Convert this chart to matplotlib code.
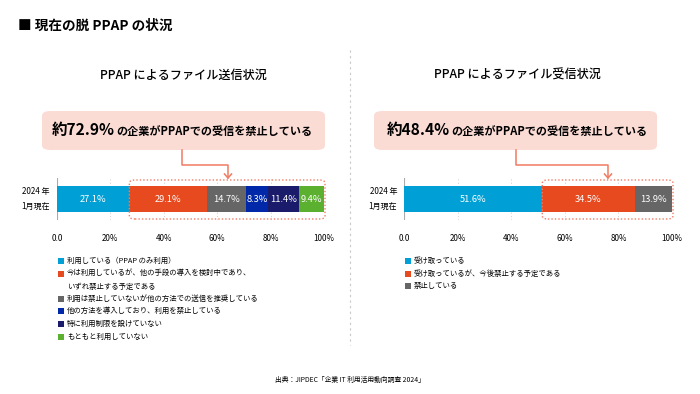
import matplotlib
matplotlib.use("Agg")
import matplotlib.pyplot as plt
from matplotlib.patches import FancyBboxPatch, Rectangle
from matplotlib.lines import Line2D

plt.rcParams['font.family'] = ['Noto Sans CJK JP', 'DejaVu Sans']

# ---- data ----
send_labels = ["利用している（PPAP のみ利用）",
               "今は利用しているが、他の手段の導入を検討中であり、\nいずれ禁止する予定である",
               "利用は禁止していないが他の方法での送信を推奨している",
               "他の方法を導入しており、利用を禁止している",
               "特に利用制限を設けていない",
               "もともと利用していない"]
send_values = [27.1, 29.1, 14.7, 8.3, 11.4, 9.4]
send_colors = ["#00a0d6", "#e84a1f", "#666666", "#0028a8", "#1b1b6b", "#5bb030"]

recv_labels = ["受け取っている", "受け取っているが、今後禁止する予定である", "禁止している"]
recv_values = [51.6, 34.5, 13.9]
recv_colors = ["#00a0d6", "#e84a1f", "#666666"]

tick_vals = [0, 20, 40, 60, 80, 100]
tick_labels = ["0.0", "20%", "40%", "60%", "80%", "100%"]
row_label = "2024 年\n1月現在"

W, H = 700, 394
fig = plt.figure(figsize=(7, 3.94), dpi=100)

def fx(x): return x / W
def fy(y): return 1 - y / H

fig.text(fx(18), fy(26), "■ 現在の脱 PPAP の状況", fontsize=9.8, fontweight='bold', va='center', ha='left')

# divider
fig.add_artist(Line2D([fx(350), fx(350)], [fy(50), fy(345)], color='#c8c8c8', lw=0.8, ls=(0, (2, 3))))

SALMON = "#f07a62"
LEG_FS = 5.3

def panel(x0, x1, title, title_cx, values, colors, labels, callout_big, callout_rest, cx, box, stem_x, arrow_x, start_val, leg_x, leg_rows):
    fig.text(fx(title_cx), fy(75), title, fontsize=8.7, fontweight='medium', ha='center', va='center')
    bx0, by0, bx1, by1 = box
    fig.add_artist(FancyBboxPatch((fx(bx0), fy(by1)), fx(bx1 - bx0), (by1 - by0) / H,
                                  boxstyle="round,pad=0,rounding_size=0.012", transform=fig.transFigure,
                                  fc="#fbdcd5", ec='none'))
    t = fig.text(fx(cx), fy((by0 + by1) / 2), callout_big, fontsize=11.2, fontweight='bold', ha='left', va='center')
    fig.canvas.draw()
    bb = t.get_window_extent()
    fig.text(bb.x1 / W + 0.002, fy((by0 + by1) / 2) - 0.002, callout_rest, fontsize=8.0, fontweight='bold', ha='left', va='center')
    ax = fig.add_axes([fx(x0), fy(220), fx(x1 - x0), 42 / H])
    left = 0
    for v, c in zip(values, colors):
        ax.barh(0, v, left=left, height=0.64, color=c, edgecolor='none', zorder=3)
        ax.text(left + v / 2, 0, f"{v}%", color='white', fontsize=6.7, ha='center', va='center', zorder=4)
        left += v
    ax.set_xlim(0, 100)
    ax.set_ylim(-0.5, 0.5)
    for s in ax.spines.values():
        s.set_visible(False)
    ax.axvline(0, color='#aaaaaa', lw=0.8, zorder=2)
    for tv in tick_vals[1:]:
        ax.axvline(tv, color='#d0d0d0', lw=0.6, ls=(0, (1.5, 2.5)), zorder=1)
    ax.set_yticks([])
    ax.set_xticks(tick_vals)
    ax.set_xticklabels(tick_labels, fontsize=5.8)
    ax.tick_params(axis='x', length=0, pad=10)
    ax.set_facecolor('none')
    fig.text(fx(x0 - 7), fy(199), row_label, fontsize=5.8, ha='right', va='center', linespacing=1.8)
    def vx(v): return x0 + (x1 - x0) * v / 100
    rx0 = vx(start_val)
    rx1 = x1 + 1
    fig.add_artist(FancyBboxPatch((fx(rx0), fy(219)), fx(rx1 - rx0), 39 / H,
                                  boxstyle="round,pad=0,rounding_size=0.008", transform=fig.transFigure,
                                  fc='none', ec=SALMON, lw=1.0, ls=(0, (1, 1.5))))
    fig.add_artist(Line2D([fx(stem_x), fx(stem_x), fx(arrow_x), fx(arrow_x)],
                          [fy(by1), fy(165), fy(165), fy(178)], color=SALMON, lw=1.1))
    fig.add_artist(Line2D([fx(arrow_x - 3.5), fx(arrow_x), fx(arrow_x + 3.5)],
                          [fy(174), fy(178), fy(174)], color=SALMON, lw=1.1))
    for (lab, c, ry) in zip(labels, colors, leg_rows):
        fig.add_artist(Rectangle((fx(leg_x - 3), fy(ry + 3)), fx(6), 6 / H, transform=fig.transFigure, fc=c, ec='none'))
        if '\n' in lab:
            fig.text(fx(leg_x + 6), fy(ry - 5), lab, fontsize=LEG_FS, ha='left', va='top', linespacing=2.0)
        else:
            fig.text(fx(leg_x + 6), fy(ry), lab, fontsize=LEG_FS, ha='left', va='center')

panel(57, 324, "PPAP によるファイル送信状況", 183, send_values, send_colors, send_labels,
      "約72.9%", "の企業がPPAPでの受信を禁止している", 52, (42, 111, 325, 150),
      182, 228, send_values[0], 61, [261, 274, 299, 311, 324, 337])

panel(404, 672, "PPAP によるファイル受信状況", 517, recv_values, recv_colors, recv_labels,
      "約48.4%", "の企業がPPAPでの受信を禁止している", 387, (374, 111, 657, 150),
      516, 608, recv_values[0], 408, [261, 274, 286])

fig.text(0.5, fy(380), "出典：JIPDEC「企業 IT 利用活用動向調査 2024」", fontsize=4.9, ha='center', va='center')

fig.savefig("out.png", dpi=100, facecolor='white')
